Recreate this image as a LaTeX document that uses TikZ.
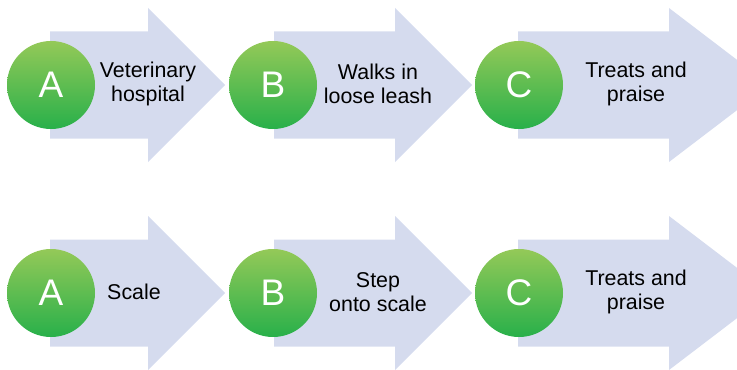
\documentclass[tikz,border=0pt]{standalone}
\usepackage{fontspec}
\setmainfont{Liberation Sans}
\usepackage{xcolor}
\usetikzlibrary{positioning}

\definecolor{arrowfill}{RGB}{213,219,238}
\definecolor{greentop}{RGB}{148,201,88}
\definecolor{greenbot}{RGB}{40,176,74}

\begin{document}
\begin{tikzpicture}[
    x=0.5pt, y=-0.5pt,
    bigarrow/.style={fill=arrowfill, draw=none},
    badge/.style={circle, minimum size=44pt, inner sep=0pt,
                  top color=greentop, bottom color=greenbot, draw=none,
                  text=white, font=\fontsize{18.5}{18.5}\selectfont},
    label/.style={align=center, text=black,
                  font=\fontsize{10.7}{12.2}\selectfont}
]
\useasboundingbox (0,0) rectangle (737,369);

% Top row arrows
\fill[bigarrow] (50,31.5) -- (148,31.5) -- (148,8) -- (225,85) -- (148,162) -- (148,138.5) -- (50,138.5) -- cycle;
\fill[bigarrow] (274,31.5) -- (395,31.5) -- (395,8) -- (472,85) -- (395,162) -- (395,138.5) -- (274,138.5) -- cycle;
\fill[bigarrow] (518,31.5) -- (669,31.5) -- (669,8) -- (770,85) -- (669,162) -- (669,138.5) -- (518,138.5) -- cycle;

% Bottom row arrows
\fill[bigarrow] (50,239.5) -- (148,239.5) -- (148,216) -- (225,293) -- (148,370) -- (148,346.5) -- (50,346.5) -- cycle;
\fill[bigarrow] (274,239.5) -- (395,239.5) -- (395,216) -- (472,293) -- (395,370) -- (395,346.5) -- (274,346.5) -- cycle;
\fill[bigarrow] (518,239.5) -- (669,239.5) -- (669,216) -- (770,293) -- (669,370) -- (669,346.5) -- (518,346.5) -- cycle;

% Top row: visit
\node[badge] (a1) at (51,85) {A};
\node[badge] (b1) at (273,85) {B};
\node[badge] (c1) at (519,85) {C};
\node[label] (t1) at (148,84) {Veterinary\\hospital};
\node[label] (t2) at (378,84) {Walks in\\loose leash};
\node[label] (t3) at (636,84) {Treats and\\praise};

% Bottom row: weighing
\node[badge] (a2) at (51,293) {A};
\node[badge] (b2) at (273,293) {B};
\node[badge] (c2) at (519,293) {C};
\node[label] (s1) at (134,292) {Scale};
\node[label] (s2) at (378,292) {Step\\onto scale};
\node[label] (s3) at (636,292) {Treats and\\praise};

\end{tikzpicture}
\end{document}
